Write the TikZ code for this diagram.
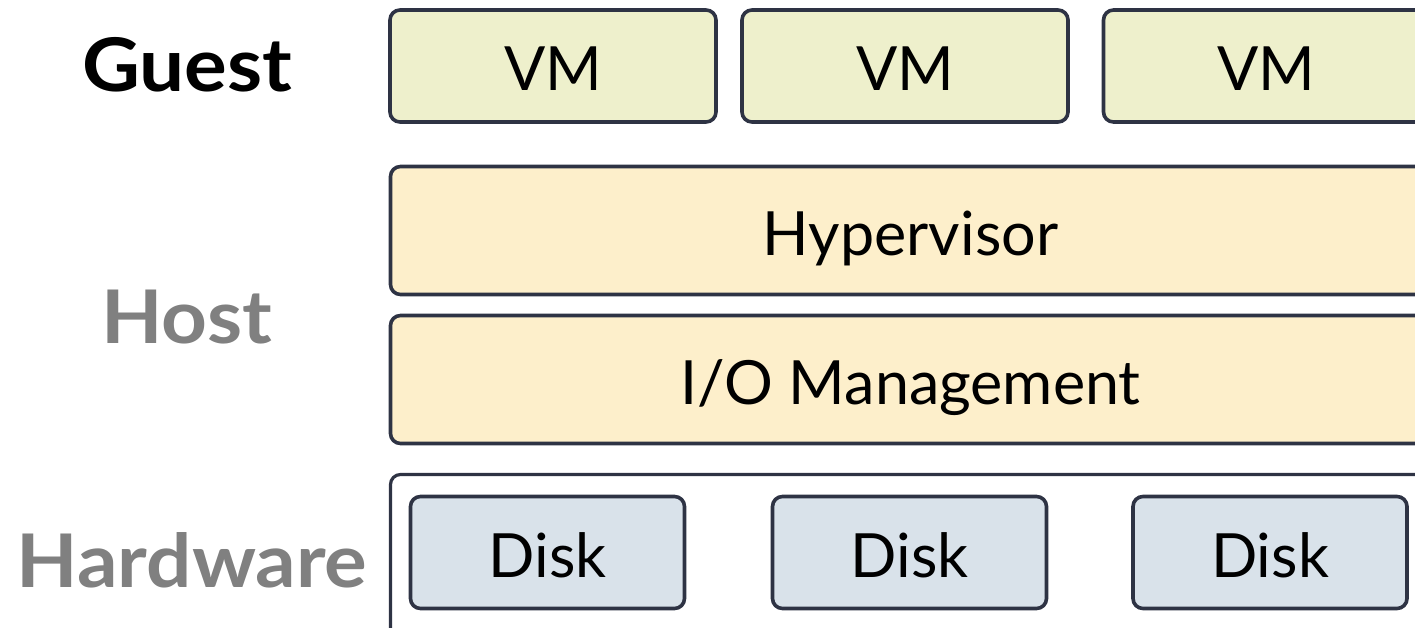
\documentclass[tikz,border=0pt]{standalone}
\usepackage{fontspec}
\setmainfont{Lato}
\newfontfamily\tierfont[FakeStretch=1.08]{Lato Bold}
\definecolor{edge}{HTML}{2E3344}
\definecolor{vmfill}{HTML}{EEF0CC}
\definecolor{hostfill}{HTML}{FDEFCB}
\definecolor{diskfill}{HTML}{D9E2EA}
\definecolor{labelgray}{HTML}{808080}
\tikzset{
  layerbox/.style={draw=edge, line width=3.6pt, rounded corners=10pt, inner sep=0pt,
    font=\fontsize{61}{70}\selectfont, text height=50pt, text depth=0pt},
  vmbox/.style={layerbox, fill=vmfill, minimum width=326pt, minimum height=112pt},
  hostbox/.style={layerbox, fill=hostfill, minimum width=1040pt, minimum height=128pt},
  diskbox/.style={layerbox, fill=diskfill, minimum width=274pt, minimum height=112pt},
  hwframe/.style={draw=edge, line width=3.2pt, rounded corners=10pt, fill=white,
    minimum width=1040pt, minimum height=170pt, inner sep=0pt},
  tierlabel/.style={font=\tierfont\fontsize{74}{80}\selectfont, anchor=base, inner sep=0pt}
}
\begin{document}
\begin{tikzpicture}[x=1pt, y=-1pt]
  \useasboundingbox (0,0) rectangle (1415,628);
  \clip (0,0) rectangle (1415,628);

  % tier captions
  \node[tierlabel, text=black] (guest) at (187,92) {Guest};
  \node[tierlabel, text=labelgray] (host) at (187,343) {Host};
  \node[tierlabel, text=labelgray] (hw) at (192,587) {Hardware};

  % guest tier
  \node[vmbox] (vm1) at (553,66) {VM};
  \node[vmbox] (vm2) at (905,66) {VM};
  \node[vmbox] (vm3) at (1266.5,66) {VM};

  % host tier
  \node[hostbox] (hyp) at (910.5,230.5) {Hypervisor};
  \node[hostbox] (io) at (910.5,379.5) {I/O Management};

  % hardware tier
  \node[hwframe] (hwbox) at (910.5,559.5) {};
  \node[diskbox] (d1) at (547.5,552.5) {Disk};
  \node[diskbox] (d2) at (909.5,552.5) {Disk};
  \node[diskbox] (d3) at (1270,552.5) {Disk};
\end{tikzpicture}
\end{document}
